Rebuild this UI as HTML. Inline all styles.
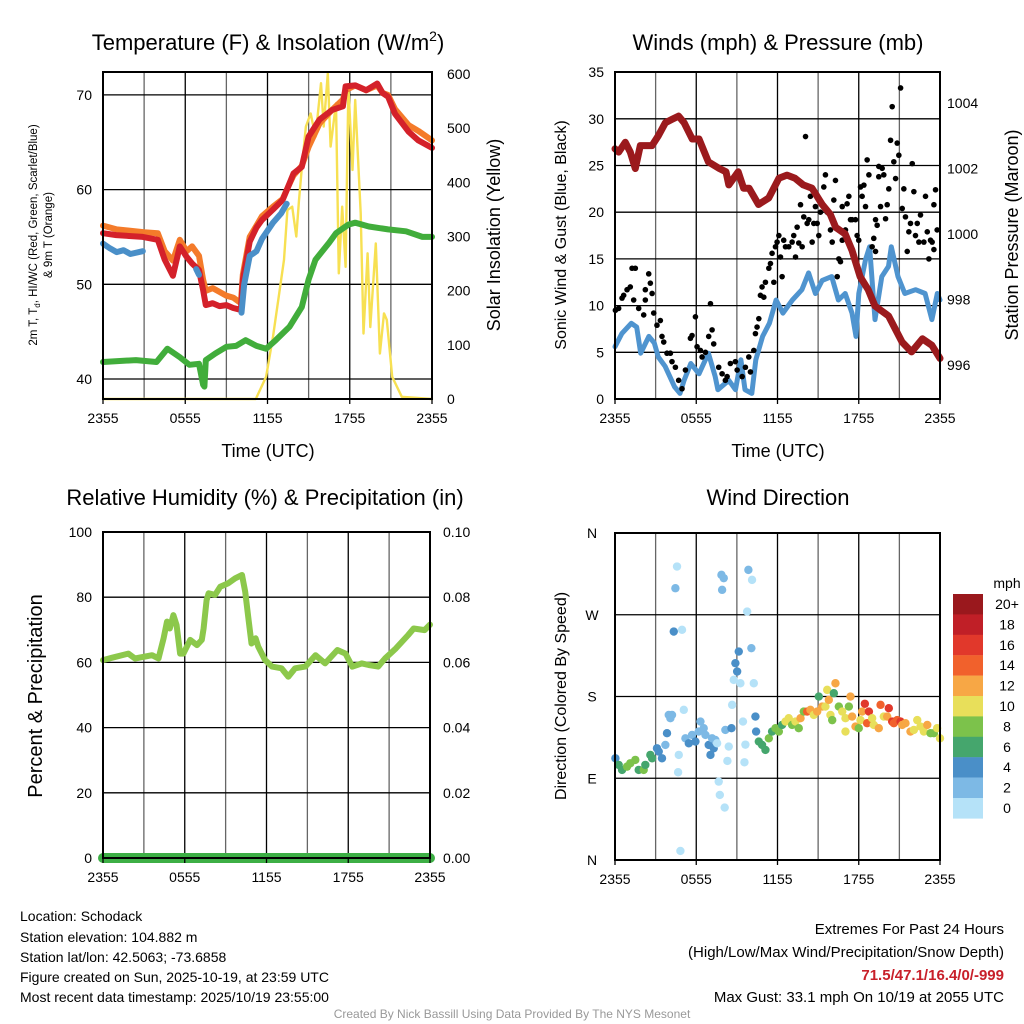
<!DOCTYPE html>
<html><head><meta charset="utf-8"><style>
body{margin:0;background:#fff;}
svg{display:block;font-family:"Liberation Sans",Arial,sans-serif;}
</style></head><body>
<svg id="c" width="1024" height="1024" viewBox="0 0 1024 1024" xmlns="http://www.w3.org/2000/svg">
<rect width="1024" height="1024" fill="#fff"/>
<g id="g"></g>
<g font-size="14" fill="#000">
<text x="20" y="921">Location: Schodack</text>
<text x="20" y="942">Station elevation: 104.882 m</text>
<text x="20" y="962">Station lat/lon: 42.5063; -73.6858</text>
<text x="20" y="982">Figure created on Sun, 2025-10-19, at 23:59 UTC</text>
<text x="20" y="1002">Most recent data timestamp: 2025/10/19 23:55:00</text>
</g>
<g font-size="15" text-anchor="end">
<text x="1004" y="934">Extremes For Past 24 Hours</text>
<text x="1004" y="957">(High/Low/Max Wind/Precipitation/Snow Depth)</text>
<text x="1004" y="980" fill="#c8202a" font-weight="bold">71.5/47.1/16.4/0/-999</text>
<text x="1004" y="1002">Max Gust: 33.1 mph On 10/19 at 2055 UTC</text>
</g>
<text x="512" y="1018" font-size="12" fill="#999" text-anchor="middle">Created By Nick Bassill Using Data Provided By The NYS Mesonet</text>
</svg>
<script>
// ---- data (hours since 2355 UTC) ----
const xTickLabels=["2355","0555","1155","1755","2355"];
const tempRedH=[0,0.97,2.9,4,4.5,5.1,5.6,6.1,6.5,7.0,7.3,7.5,8,8.5,9,9.5,10.06,10.2,10.7,11.2,11.6,12.4,13.1,13.5,13.9,14.5,15.0,15.8,16.7,17.5,17.7,18.4,19.2,20.0,20.4,20.8,21.3,22.3,23.0,24];
const tempRedV=[55.4,55.2,55.0,54.7,52.6,50.9,54.0,52.9,52.2,51.5,49.4,47.8,48.0,47.7,47.8,47.5,47.3,50.5,54.5,56.0,56.8,57.9,58.9,60.3,61.7,62.4,65.6,67.4,68.4,68.8,70.9,71.0,70.5,71.2,70.2,69.8,68.0,66.1,65.2,64.4];
const tempOrgH=[0,1,3,4,4.5,5.1,5.6,6.1,6.5,7,7.3,7.5,8,8.5,9,9.5,10.06,10.2,10.7,11.2,11.6,12.4,13.1,13.5,13.9,14.5,15,15.8,16.7,17.5,17.7,18.4,19.2,20,20.4,20.8,21.3,22.3,23,24];
const tempOrgV=[56.2,55.8,55.5,55.4,53.5,52.5,54.7,53.5,54.0,53.0,50.5,49.3,49.6,49.2,48.8,48.6,48.0,51,55,56.2,57.2,58.2,59,60.3,61.5,62.5,64.5,67,68.4,69.5,70.5,71.0,70.5,71,70.2,70,68.5,66.8,66.2,65.2];
const tempBlueH=[0,0.5,1,1.5,2,2.9];
const tempBlueV=[54.3,53.8,53.4,53.6,53.2,53.5];
const tempBlue2H=[6.8,7.0];
const tempBlue2V=[51.6,51.0];
const tempBlue3H=[10.1,10.3,10.7,11.2,11.6,12.4,13,13.4];
const tempBlue3V=[47.0,50,53.0,53.5,54.8,56.5,57.5,58.5];
const dewH=[0,2.4,3.9,4.7,5.6,6.3,7.0,7.3,7.4,7.5,8.2,9.0,9.7,10.4,11.2,11.9,12.6,13.6,14.5,15.0,15.5,16.5,17.0,17.9,18.4,19.4,20.8,22.1,23.3,24];
const dewV=[41.8,42.0,41.8,43.2,42.3,41.5,41.6,39.4,39.2,42.0,42.7,43.4,43.5,44.1,43.5,43.2,44.1,45.5,47.6,50.5,52.6,54.4,55.4,56.3,56.5,56.1,55.8,55.6,55.0,55.0];
const solarH=[0,11.15,11.9,12.4,12.85,13.2,13.45,13.8,14.1,14.3,14.55,14.8,15.15,15.5,15.9,16.1,16.4,16.6,17.0,17.2,17.45,17.7,17.9,18.2,18.4,18.8,19.0,19.3,19.5,19.9,20.2,20.5,20.7,21.1,21.8,24];
const solarV=[0,0,41,115,195,257,349,355,300,367,441,503,527,484,583,503,601,466,546,232,355,244,577,423,552,343,121,269,133,287,84,158,146,41,4,0];
const presH=[0,0.27,0.76,1.13,1.5,1.87,2.49,2.73,3.2,3.72,4.2,4.7,5.1,5.7,6.2,6.9,7.7,8.2,8.4,9.1,9.5,9.9,10.6,11.35,12.1,12.7,13.3,13.9,14.55,15.3,15.9,16.3,17.0,17.5,18.1,18.7,19.2,20.2,21.2,21.9,22.7,23.4,24];
const presV=[1002.6,1002.5,1002.8,1002.5,1002.0,1002.7,1002.7,1002.7,1003.0,1003.4,1003.5,1003.6,1003.4,1002.9,1002.9,1002.2,1002.0,1001.9,1001.5,1001.9,1001.4,1001.4,1000.9,1001.1,1001.7,1001.8,1001.7,1001.5,1001.4,1000.9,1000.6,1000.2,1000.0,999.5,998.7,998.3,997.8,997.5,996.7,996.4,996.8,996.6,996.2];
const windH=[0,0.5,1.2,1.6,1.9,2.5,2.9,3.2,3.7,4.4,4.8,5.1,5.6,6.2,6.9,7.4,7.6,8.4,8.9,9.3,9.6,10.1,10.4,10.9,11.4,11.9,12.4,13.1,13.8,14.3,14.8,15.3,16.0,16.5,17.0,17.5,17.8,18.0,18.5,18.8,19.2,19.7,20.2,20.4,20.9,21.4,22.2,22.9,23.4,23.8,24];
const windV=[5.6,7.0,8.1,7.7,4.9,6.7,6.0,4.5,3.5,1.3,0.6,2.0,3.8,2.7,4.9,2.4,1.0,2.0,1.0,4.2,1.0,0.6,4.2,6.7,8.1,10.6,9.2,10.6,11.7,13.5,11.3,12.7,13.1,10.6,11.3,9.2,6.7,11.3,14.9,16.3,8.5,13.1,14.2,16.3,13.1,11.3,11.7,11.3,8.5,11.3,10.6];
const gustH=[0.03,0.27,0.52,0.64,0.89,1.13,1.26,1.5,1.38,1.75,2.12,2.24,2.24,2.49,2.61,2.74,2.86,3.1,3.35,3.47,3.6,3.84,4.09,4.21,4.46,4.7,4.95,5.2,5.57,5.69,5.94,6.06,6.31,6.43,6.68,6.92,7.05,7.17,7.29,7.66,7.91,8.15,8.28,8.52,8.89,9.02,9.39,9.63,9.88,10.0,10.25,10.37,10.49,10.62,10.74,10.86,10.99,11.11,11.36,11.48,11.6,11.73,11.85,11.97,12.1,12.22,12.34,12.46,12.59,12.83,13.08,13.2,13.33,13.45,13.57,13.7,13.82,13.94,14.07,14.19,14.31,14.43,14.56,14.68,14.8,14.93,15.05,15.17,15.42,15.54,15.67,15.91,16.04,16.16,16.28,16.41,16.53,16.65,16.78,16.78,17.02,17.14,17.27,17.39,17.51,17.76,17.88,18.0,18.13,18.25,18.38,18.5,18.62,18.75,18.99,19.11,19.24,19.24,19.36,19.48,19.48,19.61,19.73,19.85,19.98,20.1,20.22,20.35,20.47,20.59,20.72,20.84,20.96,21.09,21.21,21.33,21.45,21.58,21.7,21.82,21.95,22.07,22.19,22.32,22.44,22.56,22.81,22.93,23.06,23.18,23.3,23.42,23.55,23.55,23.67,23.79];
const gustV=[9.5,9.7,10.8,11.1,11.7,12.0,14.0,14.0,10.6,9.7,9.0,11.7,10.6,13.4,12.4,11.3,9.2,7.9,8.4,6.7,6.1,4.9,4.9,4.0,3.4,2.0,1.1,3.1,6.5,6.8,8.8,5.6,5.2,4.5,5.0,6.7,10.2,7.4,5.9,3.4,2.7,2.0,2.4,3.8,4.0,3.1,2.4,3.4,4.5,2.9,5.2,7.0,7.7,8.6,11.1,12.0,10.9,12.5,14.0,14.5,15.6,12.5,16.3,16.8,17.5,15.2,13.1,17.0,16.3,16.3,16.8,17.5,15.2,18.4,16.7,20.8,16.3,19.5,28.1,18.8,19.2,21.7,16.8,18.8,20.6,18.8,17.5,20.0,22.7,24.0,20.0,18.1,16.8,21.3,23.4,13.1,15.0,14.7,17.0,20.6,18.1,20.9,21.7,19.2,19.2,19.2,17.5,17.0,22.7,21.7,22.9,20.6,25.6,24.0,16.3,17.2,15.8,19.2,18.6,24.9,23.8,20.6,24.7,24.0,19.3,20.8,22.5,27.7,31.3,25.4,23.6,27.4,26.1,33.3,20.4,22.5,19.5,15.8,17.9,18.8,25.2,22.2,17.5,18.8,16.8,19.7,16.8,21.7,17.9,15.0,17.0,16.8,20.8,16.0,22.4,18.1];
const rhH=[0,0.64,1.86,2.35,3.6,4.07,4.45,4.7,4.9,5.17,5.4,5.66,5.9,6.4,6.9,7.25,7.38,7.6,7.75,8.23,8.6,9.2,9.7,10.2,10.44,10.7,10.9,11.2,11.4,11.9,12.4,13.1,13.6,14.1,14.85,15.6,16.3,17.2,17.8,18.3,19.0,19.5,20.2,20.7,21.5,22.4,22.8,23.6,24];
const rhV=[60.7,61.4,62.7,61.2,62.2,61.2,67.4,72.5,70.4,74.5,71.4,62.7,62.7,66.9,65.3,66.9,70.4,79.1,81.2,80.7,83.2,84.3,85.8,86.8,81.7,72.5,65.8,67.4,64.8,60.7,58.7,58.2,55.6,58.2,58.7,62.2,59.7,63.8,62.7,58.7,59.7,59.2,58.7,61.2,64.3,68.4,70.4,69.9,71.6];
const precipH=[0,24];
const precipV=[0,0];
const dirH=[0.03,0.27,0.52,0.89,1.13,1.5,1.75,2.12,2.24,2.61,2.74,3.1,3.23,3.47,3.72,3.84,3.97,4.09,4.21,4.46,4.58,4.34,4.95,5.08,4.71,4.66,4.83,5.2,5.45,5.69,5.94,6.18,6.31,6.55,6.68,6.92,7.05,7.17,7.29,7.41,7.54,7.66,7.74,8.1,8.3,8.4,8.15,8.6,8.65,8.77,8.89,9.02,9.14,9.26,9.45,9.56,9.63,9.76,9.85,10.07,8.03,7.91,7.86,10.25,10.12,10.37,10.42,10.62,10.86,11.11,11.36,11.6,11.85,12.1,12.34,12.59,12.83,13.08,13.33,13.57,13.7,13.94,14.19,14.43,14.68,14.93,15.05,15.3,15.54,15.67,15.79,15.91,16.04,16.16,16.28,16.53,16.78,17.02,17.02,17.27,17.39,17.51,17.76,18.0,18.13,18.25,18.45,18.62,18.75,18.99,19.11,19.48,19.61,19.85,20.1,20.22,20.47,20.59,20.84,21.09,21.21,21.45,21.82,22.07,22.32,22.56,22.81,23.06,23.3,23.55,23.79,24.0];
const dirV=[112,104.7,99.2,102.8,106.5,110.2,99.2,99.2,104.7,115.7,112,123,119.4,112,126.7,139.6,159.7,156.1,159.7,299.2,323.1,251.5,253.4,165.3,115.7,96.6,10,134,128.5,137.7,130.4,141.4,152.4,145.1,137.7,126.7,115.7,134,123,132.2,128.5,86.3,71.6,57.7,109.1,124.9,143.2,145.1,170.8,198.3,216.7,207.5,229.5,194.6,152.4,107.6,127,273.5,319.4,233.2,310.3,297.4,313.9,194.6,308.4,157.9,141.4,130.4,126.7,121.2,134,141.4,145.1,141.4,148.7,152.4,156.1,148.7,152.4,145.1,156.1,163.4,163.4,165.3,159.7,163.4,179.9,168.9,168.9,187.3,176.3,159.7,154,183.6,194.6,168.9,163.4,156.1,141.4,168.9,179.9,157.9,146.9,145.1,154,163.4,172,150.6,163.4,156.1,148.7,145.1,170.8,157.9,157.9,167.1,152.4,150.6,154,152.4,148.7,150.6,141.4,143.2,154,146.9,141.4,148.7,139.6,139.6,145.1,134,148.7,152.4];
const dirS=[4,6,6,8,8,8,6,8,6,6,6,4,4,4,2,4,2,2,2,2,0,4,0,0,0,0,0,2,4,2,4,2,2,2,2,4,4,2,4,2,0,0,0,0,0,0,2,4,0,0,4,4,4,0,0,0,0,0,2,2,2,2,2,0,0,4,4,6,6,6,8,6,8,8,6,10,10,8,10,8,12,8,14,12,10,12,6,12,10,10,12,10,8,6,12,8,10,10,10,8,12,12,12,8,10,12,16,14,16,10,10,12,14,10,12,16,16,14,14,16,12,12,12,10,10,10,10,12,8,8,10,10];
const cbLabels=["20+","18","16","14","12","10","8","6","4","2","0"];
const cbColors=["#9a181d","#c01f27","#e1382b","#f1612c","#f7a745","#e8df5a","#7cc24b","#45a66d","#4a8fc8","#7db9e5","#b5e2f8"];

const NS="http://www.w3.org/2000/svg";
const G=document.getElementById('g');
function el(tag,attrs,parent,txt){const e=document.createElementNS(NS,tag);for(const k in attrs)e.setAttribute(k,attrs[k]);if(txt!==undefined)e.textContent=txt;(parent||G).appendChild(e);return e;}
function speedColor(s){const i=Math.min(10,Math.floor(s/2));return cbColors[10-i];}

function panel(name,x0,x1,y0,y1){
  const g=el('g',{});
  
  
  const xs=h=>x0+h*(x1-x0)/24;
  return {g,xs,x0,x1,y0,y1};
}
function grid(P,hY){
  for(let h=3;h<24;h+=3){const l=el('line',{x1:P.xs(h),x2:P.xs(h),y1:P.y0,y2:P.y1,stroke:(h%6?'#666':'#000'),'stroke-width':1.3},P.g);}
  hY.forEach(y=>{const l=el('line',{x1:P.x0,x2:P.x1,y1:y,y2:y,stroke:'#000','stroke-width':1.3},P.g);});
}
function frame(P){
  const r=el('rect',{x:P.x0,y:P.y0,width:P.x1-P.x0,height:P.y1-P.y0,fill:'none',stroke:'#000','stroke-width':2},P.g);
  
  xTickLabels.forEach((t,i)=>{const x=P.xs(i*6);
    el('line',{x1:x,x2:x,y1:P.y1,y2:P.y1+5,stroke:'#000','stroke-width':1.3},P.g);
    const tx=el('text',{x:x,y:P.y1+24,'font-size':14,'text-anchor':'middle'},P.g,t);
    });
}
function line(P,H,V,ys,color,w,name){
  const pts=H.map((h,i)=>P.xs(h).toFixed(1)+','+ys(V[i]).toFixed(1)).join(' ');
  const l=el('polyline',{points:pts,fill:'none',stroke:color,'stroke-width':w,'stroke-linejoin':'round','stroke-linecap':'round'},P.g);
  
}
function ylabels(P,vals,ys,fmt,x,anchor,name){
  vals.forEach(v=>{const y=ys(v);
    const tx=el('text',{x:x,y:y+5,'font-size':14,'text-anchor':anchor},P.g,fmt(v));
    });
}
function title(x,y,txt,size,name,rot){
  const t=el('text',{x:x,y:y,'font-size':size,'text-anchor':'middle'},G,txt);
  if(rot)t.setAttribute('transform','rotate(-90 '+x+' '+y+')');
  return t;
}

// ---- Panel 1: temperature & insolation ----
const P1=panel('temperature-panel',103,432,72,399);
const yT=v=>379-(v-40)*9.47, yS=v=>399-v*325/600;
grid(P1,[40,50,60,70].map(yT));
line(P1,solarH,solarV,yS,'#f7e052',2.4,'solar-insolation-line');
line(P1,dewH,dewV,yT,'#41ad3b',6,'dewpoint-line');
line(P1,tempOrgH,tempOrgV,yT,'#f47b2a',6,'temp-9m-line');
line(P1,tempRedH,tempRedV,yT,'#d4212a',6,'temp-2m-line');
line(P1,tempBlueH,tempBlueV,yT,'#4a8fc8',6,'windchill-line');
line(P1,tempBlue2H,tempBlue2V,yT,'#4a8fc8',6,'windchill-line');
line(P1,tempBlue3H,tempBlue3V,yT,'#4a8fc8',6,'windchill-line');
frame(P1);
ylabels(P1,[40,50,60,70],yT,v=>v,92,'end','temp-tick-label');
ylabels(P1,[0,100,200,300,400,500,600],yS,v=>v,447,'start','solar-tick-label');
{const t=el('text',{x:268,y:50,'font-size':22,'text-anchor':'middle'},G);

t.innerHTML='Temperature (F) &amp; Insolation (W/m<tspan dy="-9" font-size="14">2</tspan><tspan dy="9">)</tspan>';}
title(268,457,'Time (UTC)',18,'x-axis-title');
{const t=el('text',{x:37,y:235,'font-size':11.5,'text-anchor':'middle',transform:'rotate(-90 37 235)'},G);

t.innerHTML='2m T, T<tspan dy="3" font-size="8">d</tspan><tspan dy="-3">, HI/WC (Red, Green, Scarlet/Blue)</tspan>';}
title(52,235,'& 9m T (Orange)',11.5,'temperature-y-axis-title-line2',true);
title(500,235,'Solar Insolation (Yellow)',18,'solar-y-axis-title',true);

// ---- Panel 2: winds & pressure ----
const P2=panel('winds-panel',615,940,72,399);
const yW=v=>399-v*9.34, yP=v=>365-(v-996)*32.75;
grid(P2,[5,10,15,20,25,30].map(yW));
line(P2,windH,windV,yW,'#4f94cf',5,'sonic-wind-line');
gustH.forEach((h,i)=>{const c=el('circle',{cx:P2.xs(h),cy:yW(gustV[i]),r:2.8,fill:'#000'},P2.g);
});
line(P2,presH,presV,yP,'#9b1a1d',7,'pressure-line');
frame(P2);
ylabels(P2,[0,5,10,15,20,25,30,35],yW,v=>v,604,'end','wind-tick-label');
ylabels(P2,[996,998,1000,1002,1004],yP,v=>v,947,'start','pressure-tick-label');
title(778,50,'Winds (mph) & Pressure (mb)',22,'winds-chart-title');
title(778,457,'Time (UTC)',18,'x-axis-title');
title(566,235,'Sonic Wind & Gust (Blue, Black)',16,'wind-y-axis-title',true);
title(1018,235,'Station Pressure (Maroon)',18,'pressure-y-axis-title',true);

// ---- Panel 3: RH & precip ----
const P3=panel('humidity-panel',103,430,532,858);
const yR=v=>858-v*3.26, yPr=v=>858-v*3260;
grid(P3,[20,40,60,80].map(yR));
line(P3,rhH,rhV,yR,'#8cc84b',6,'relative-humidity-line');
line(P3,precipH,precipV,yPr,'#3daf45',10,'precipitation-line');
frame(P3);
ylabels(P3,[0,20,40,60,80,100],yR,v=>v,92,'end','rh-tick-label');
ylabels(P3,[0,0.02,0.04,0.06,0.08,0.1],yPr,v=>v.toFixed(2),443,'start','precip-tick-label');
title(265,505,'Relative Humidity (%) & Precipitation (in)',22,'humidity-chart-title');
title(42,696,'Percent & Precipitation',20,'humidity-y-axis-title',true);

// ---- Panel 4: wind direction ----
const P4=panel('wind-direction-panel',615,940,533,860);
const yD=d=>860-d*(327/360);
grid(P4,[90,180,270].map(yD));
dirH.forEach((h,i)=>{const c=el('circle',{cx:P4.xs(h),cy:yD(dirV[i]),r:4.2,fill:speedColor(dirS[i])},P4.g);
});
frame(P4);
ylabels(P4,[0,90,180,270,360],yD,v=>['N','E','S','W','N'][v/90],592,'middle','direction-tick-label');
title(778,505,'Wind Direction',22,'wind-direction-chart-title');
title(566,696,'Direction (Colored By Speed)',16,'direction-y-axis-title',true);
// colorbar
const cb=el('g',{});

const cbt=el('text',{x:1007,y:588,'font-size':14,'text-anchor':'middle'},cb,'mph');

cbLabels.forEach((lab,i)=>{const y=594+i*20.4;
  const r=el('rect',{x:953,y:y,width:30,height:20.6,fill:cbColors[i]},cb);
  
  const t=el('text',{x:1007,y:y+15,'font-size':14,'text-anchor':'middle'},cb,lab);
  });
</script>
</body></html>
